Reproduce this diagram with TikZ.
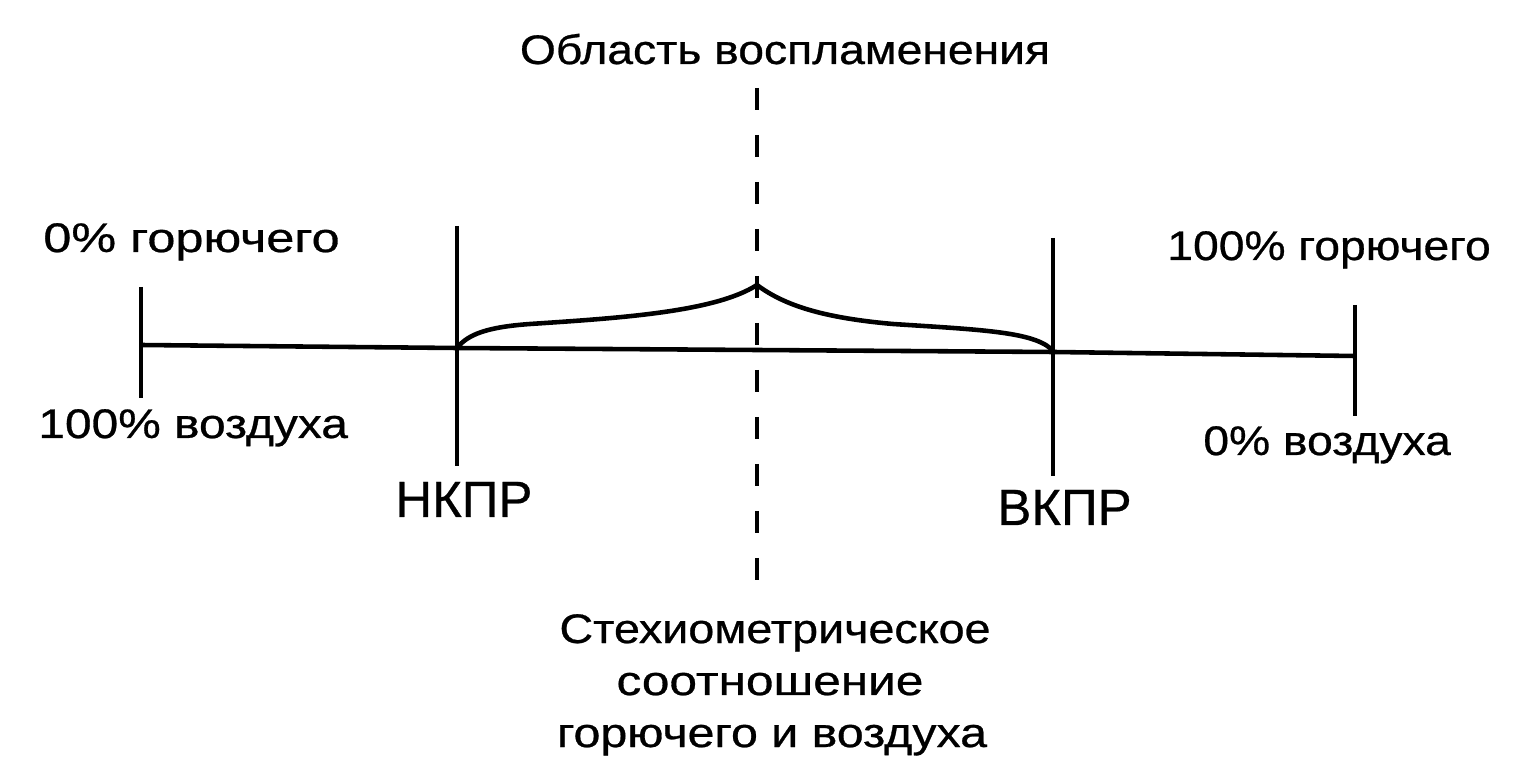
\documentclass[tikz,border=0pt]{standalone}
\usepackage{fontspec}
\usepackage{graphicx}
\setmainfont{Liberation Sans}[FakeBold=0.6]
\newcommand{\wide}[2]{\scalebox{#1}[1]{#2}}
\begin{document}
\begin{tikzpicture}[x=0.02cm,y=-0.02cm,
  axis/.style={line width=2.6pt},
  tickline/.style={line width=2.6pt},
  midline/.style={line width=2.4pt,dash pattern=on 0.44cm off 0.5cm},
  curveline/.style={line width=2.6pt,line join=round},
  lbl/.style={inner sep=0pt,font=\fontsize{23.5}{28}\selectfont},
  big/.style={inner sep=0pt,font=\fontsize{29}{34}\selectfont},
]
\useasboundingbox (0,0) rectangle (1516,780);
% key points on the axis
\coordinate (L) at (141,345);
\coordinate (N) at (457,348);
\coordinate (M) at (757,350);
\coordinate (V) at (1054,352);
\coordinate (R) at (1355,356);
\coordinate (Ltop) at (141,287);  \coordinate (Lbot) at (141,398);
\coordinate (Ntop) at (457,226);  \coordinate (Nbot) at (457,466);
\coordinate (Mtop) at (757,88);   \coordinate (Mbot) at (757,583);
\coordinate (Vtop) at (1053,238); \coordinate (Vbot) at (1053,476);
\coordinate (Rtop) at (1355,305); \coordinate (Rbot) at (1355,416);
\coordinate (P) at (757,285);
% axis and ticks
\draw[axis] (L) -- (N) -- (M) -- (V) -- (R);
\draw[tickline] (Ltop) -- (Lbot);
\draw[tickline] (Ntop) -- (Nbot);
\draw[tickline] (Vtop) -- (Vbot);
\draw[tickline] (Rtop) -- (Rbot);
\draw[midline] (Mtop) -- (Mbot);
% flammability curve
\draw[curveline] (N) .. controls (468,334) and (488,327) .. (530,324)
  .. controls (620,318) and (715,312) .. (P);
\draw[curveline] (P) .. controls (785,306) and (825,318) .. (893,324)
  .. controls (985,330) and (1038,332) .. (V);
% labels
\node[lbl,anchor=base] (t1) at (785,64) {\wide{1.12}{Область воспламенения}};
\node[lbl,anchor=base west] (t2) at (43,252) {\wide{1.22}{0\% горючего}};
\node[lbl,anchor=base west] (t3) at (38,438) {\wide{1.16}{100\% воздуха}};
\node[big,anchor=base west] (t4) at (395,517) {НКПР};
\node[big,anchor=base west] (t5) at (997,525) {ВКПР};
\node[lbl,anchor=base west] (t6) at (1167,260) {\wide{1.12}{100\% горючего}};
\node[lbl,anchor=base west] (t7) at (1203,455) {\wide{1.12}{0\% воздуха}};
\node[lbl,anchor=base] (t8) at (775,643) {\wide{1.13}{Стехиометрическое}};
\node[lbl,anchor=base] (t9) at (770,695) {\wide{1.2}{соотношение}};
\node[lbl,anchor=base] (t10) at (772,747) {\wide{1.17}{горючего и воздуха}};
\end{tikzpicture}
\end{document}
